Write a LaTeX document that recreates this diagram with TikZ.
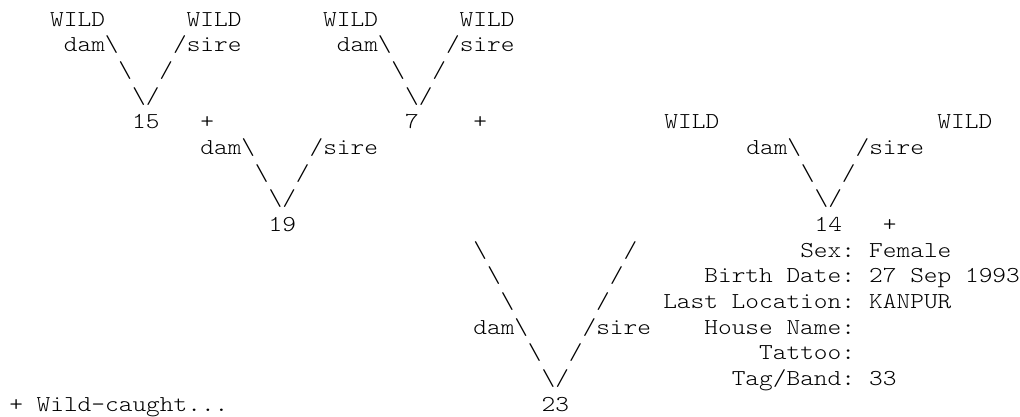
\documentclass[tikz,border=0pt]{standalone}
\usepackage{fontspec}
\newfontfamily\pedfont{lmmonolt10-regular.otf}[FakeStretch=1.147]
\newcommand{\bs}{\textbackslash}
\tikzset{
  ped/.style={anchor=base west,inner sep=0pt,font=\pedfont\fontsize{17.06pt}{20pt}\selectfont},
  pedlabel/.style={ped,anchor=base east}
}
\begin{document}
\begin{tikzpicture}[x=10.2375pt,y=-19.2525pt]
        \useasboundingbox[fill=white] (-0.659,-1.013) rectangle (74.066,15.193);
        %% parents of 15 and 7
        \node[ped] (w1) at (3,0) {WILD};
        \node[ped] (w2) at (13,0) {WILD};
        \node[ped] (w3) at (23,0) {WILD};
        \node[ped] (w4) at (33,0) {WILD};
        \node[ped] (d15) at (4,1) {dam\bs};
        \node[ped] (s15) at (12,1) {/sire};
        \node[ped] (d7) at (24,1) {dam\bs};
        \node[ped] (s7) at (32,1) {/sire};
        \node[ped] (a15) at (8,2) {\bs};
        \node[ped] (b15) at (11,2) {/};
        \node[ped] (a7) at (28,2) {\bs};
        \node[ped] (b7) at (31,2) {/};
        \node[ped] (v15) at (9,3) {\bs/};
        \node[ped] (v7) at (29,3) {\bs/};
        \node[ped] (n15) at (9,4) {15};
        \node[ped] (p15) at (14,4) {+};
        \node[ped] (n7) at (29,4) {7};
        \node[ped] (p7) at (34,4) {+};
        %% 19 and 14
        \node[ped] (w5) at (48,4) {WILD};
        \node[ped] (w6) at (68,4) {WILD};
        \node[ped] (d19) at (14,5) {dam\bs};
        \node[ped] (s19) at (22,5) {/sire};
        \node[ped] (d14) at (54,5) {dam\bs};
        \node[ped] (s14) at (62,5) {/sire};
        \node[ped] (a19) at (18,6) {\bs};
        \node[ped] (b19) at (21,6) {/};
        \node[ped] (a14) at (58,6) {\bs};
        \node[ped] (b14) at (61,6) {/};
        \node[ped] (v19) at (19,7) {\bs/};
        \node[ped] (v14) at (59,7) {\bs/};
        \node[ped] (n19) at (19,8) {19};
        \node[ped] (n14) at (59,8) {14};
        \node[ped] (p14) at (64,8) {+};
        %% 23
        \node[ped] (a23) at (34,9) {\bs};
        \node[ped] (b23) at (45,9) {/};
        \node[ped] (c23) at (35,10) {\bs};
        \node[ped] (e23) at (44,10) {/};
        \node[ped] (f23) at (36,11) {\bs};
        \node[ped] (g23) at (43,11) {/};
        \node[ped] (d23) at (34,12) {dam\bs};
        \node[ped] (s23) at (42,12) {/sire};
        \node[ped] (h23) at (38,13) {\bs};
        \node[ped] (k23) at (41,13) {/};
        \node[ped] (v23) at (39,14) {\bs/};
        \node[ped] (n23) at (39,15) {23};
        %% record of 23
        \node[pedlabel] (lsex) at (62,9) {Sex:};
        \node[ped] (vsex) at (63,9) {Female};
        \node[pedlabel] (lbirth) at (62,10) {Birth Date:};
        \node[ped] (vbirth) at (63,10) {27 Sep 1993};
        \node[pedlabel] (lloc) at (62,11) {Last Location:};
        \node[ped] (vloc) at (63,11) {KANPUR};
        \node[pedlabel] (lhouse) at (62,12) {House Name:};
        \node[pedlabel] (ltat) at (62,13) {Tattoo:};
        \node[pedlabel] (ltag) at (62,14) {Tag/Band:};
        \node[ped] (vtag) at (63,14) {33};
        \node[ped] (key) at (0,15) {+ Wild-caught...};
\end{tikzpicture}
\end{document}
